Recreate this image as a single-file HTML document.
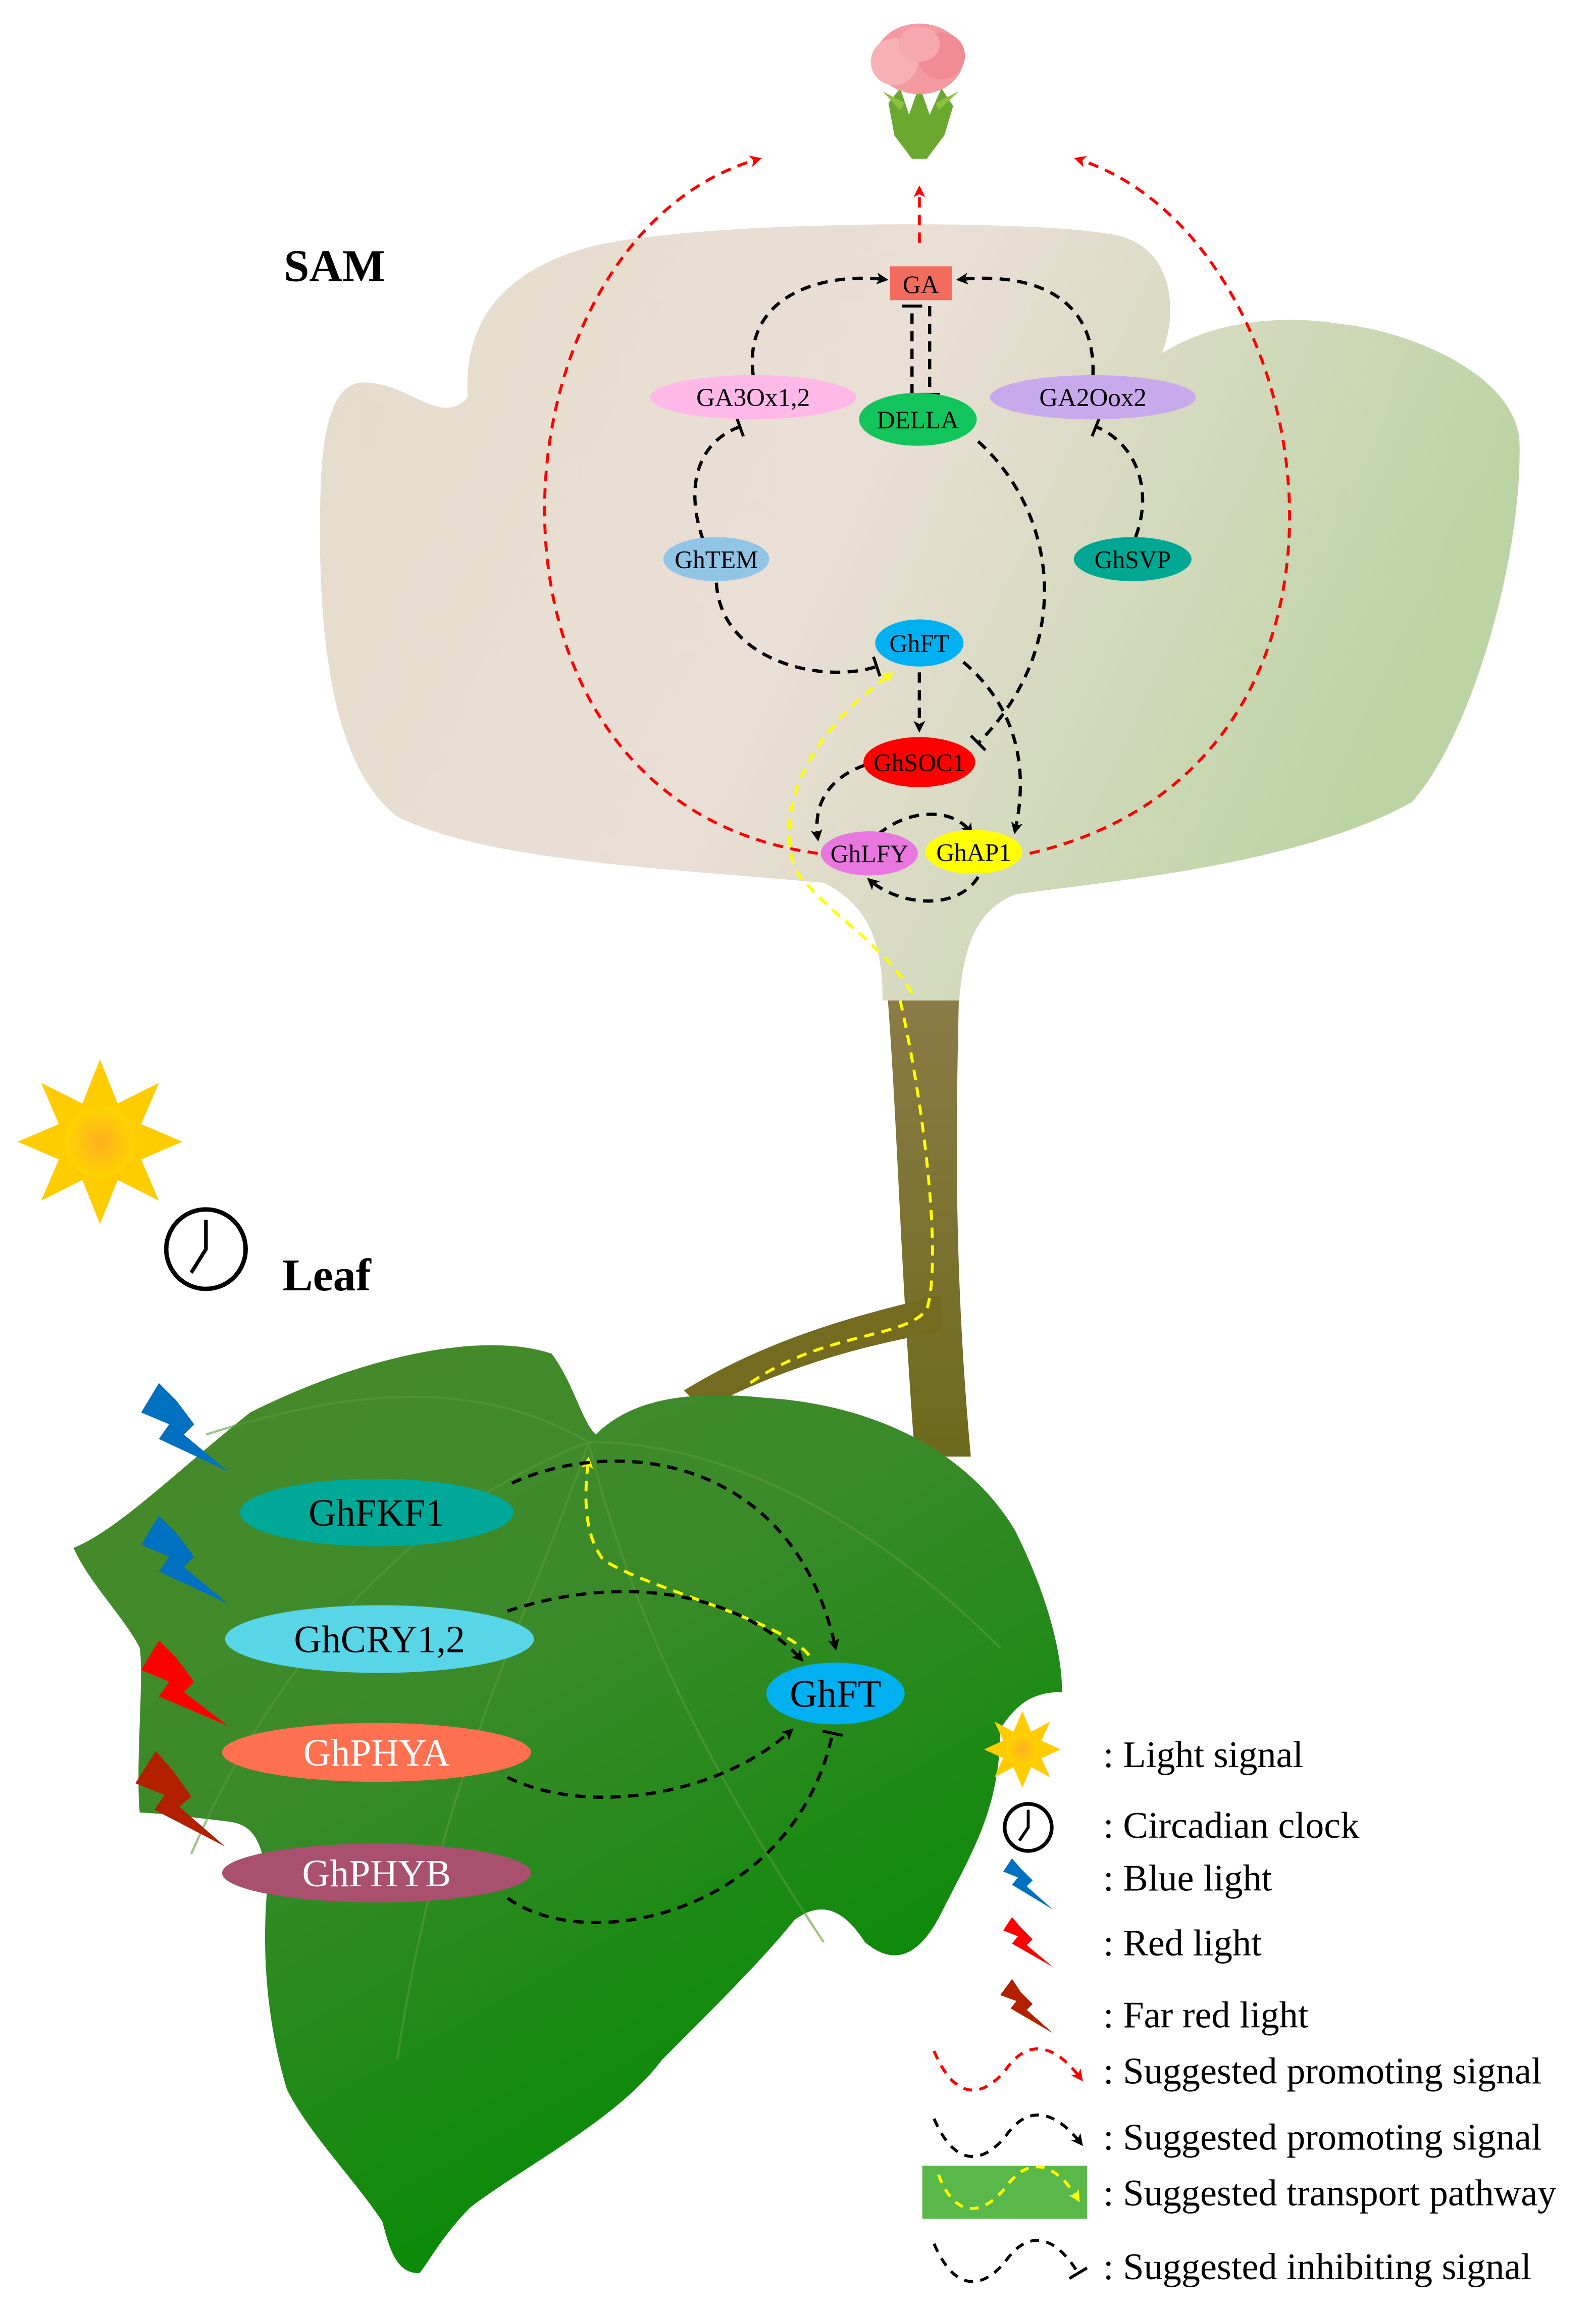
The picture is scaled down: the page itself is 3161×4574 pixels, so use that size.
<!DOCTYPE html>
<html><head><meta charset="utf-8"><style>html,body{margin:0;padding:0;background:#fff}svg{display:block}</style></head>
<body>
<svg width="3161" height="4574" viewBox="0 0 1085 1570" preserveAspectRatio="none" xmlns="http://www.w3.org/2000/svg" font-family="'Liberation Serif', serif">
<defs>
<linearGradient id="sam" x1="0" y1="0" x2="1" y2="0.3"><stop offset="0" stop-color="#e4dccb"/><stop offset="0.5" stop-color="#eadfd6"/><stop offset="1" stop-color="#bcd4a4"/></linearGradient>
<linearGradient id="stem" x1="0" y1="0" x2="0" y2="1"><stop offset="0" stop-color="#8c7c48"/><stop offset="1" stop-color="#6c6a1c"/></linearGradient>
<linearGradient id="leaf" x1="0" y1="0" x2="0.6" y2="1"><stop offset="0" stop-color="#4a8a2a"/><stop offset="0.45" stop-color="#3a8a2a"/><stop offset="1" stop-color="#008a00"/></linearGradient>
<radialGradient id="sun"><stop offset="0" stop-color="#ffb020"/><stop offset="1" stop-color="#ffd400"/></radialGradient>
<marker id="ab" markerWidth="8" markerHeight="8" refX="6" refY="4" orient="auto" markerUnits="userSpaceOnUse"><path d="M0,0 L8,4 L0,8 L2,4z" fill="#000"/></marker>
<marker id="ar" markerWidth="8" markerHeight="8" refX="6" refY="4" orient="auto" markerUnits="userSpaceOnUse"><path d="M0,0 L8,4 L0,8 L2,4z" fill="#f00"/></marker>
<marker id="ay" markerWidth="8" markerHeight="8" refX="6" refY="4" orient="auto" markerUnits="userSpaceOnUse"><path d="M0,0 L8,4 L0,8 L2,4z" fill="#ff0"/></marker>
<marker id="tb" markerWidth="4" markerHeight="14" refX="2" refY="7" orient="auto" markerUnits="userSpaceOnUse"><path d="M2,0 V14" stroke="#000" stroke-width="2"/></marker>
</defs>

<!-- stem -->
<path d="M603,672 C610,760 612,860 622,990 L660,990 C648,860 650,760 652,672 Z" fill="url(#stem)"/>
<path d="M640,880 C600,890 530,905 465,945 L478,958 C540,925 600,912 640,905 Z" fill="#746a20"/>
<!-- SAM blob -->
<path d="M600,680 C600,640 590,615 560,600 C450,590 330,585 270,555 C225,520 215,430 218,330 C220,280 230,258 250,260 C280,262 300,290 318,270 C315,220 340,185 400,168 C470,150 700,148 760,160 C800,170 800,215 790,240 C830,215 880,215 910,220 C960,225 1030,255 1033,300 C1035,380 1000,500 960,545 C880,590 740,600 690,608 C660,620 655,650 652,680 Z" fill="url(#sam)"/>
<!-- leaf -->
<path d="M50,1052 C80,1040 120,1000 170,960 C250,920 330,905 375,920 C390,940 395,965 405,975 C430,950 470,945 520,950 C600,955 660,990 690,1040 C710,1080 722,1120 722,1150 C700,1150 690,1160 680,1175 C680,1230 660,1260 640,1300 C620,1340 600,1330 588,1320 C575,1300 560,1290 540,1305 C520,1330 490,1360 450,1400 C420,1440 360,1470 320,1500 C300,1520 290,1540 285,1545 C270,1545 265,1530 260,1510 C240,1480 210,1450 195,1420 C180,1370 178,1320 182,1280 C178,1250 172,1240 155,1238 C130,1235 105,1232 95,1232 C92,1200 98,1140 95,1120 C85,1100 60,1075 50,1052 Z" fill="url(#leaf)"/>
<g stroke="#5a9a3a" stroke-width="1.5" fill="none" opacity="0.6">
<path d="M400,980 C360,1100 300,1200 270,1400"/><path d="M400,980 C430,1100 480,1200 560,1320"/><path d="M400,980 C300,1020 200,1100 130,1260"/><path d="M400,980 C500,980 600,1040 680,1120"/><path d="M140,975 C250,940 330,940 400,980"/></g>

<!-- flower -->
<path d="M604,70 L612,60 L618,78 L625,58 L632,78 L640,60 L648,72 L642,92 L630,108 L620,108 L608,92 Z" fill="#6aa830"/>
<path d="M612,75 L600,62 L615,70 Z M638,75 L652,62 L636,70 Z" fill="#8cc040"/>
<ellipse cx="625" cy="40" rx="30" ry="24" fill="#f49aa0"/><ellipse cx="608" cy="42" rx="16" ry="16" fill="#f7b0b4"/><ellipse cx="640" cy="38" rx="16" ry="16" fill="#f18c94"/><ellipse cx="625" cy="30" rx="14" ry="12" fill="#f6a8ae"/>

<!-- red arcs -->
<g stroke="#f00" stroke-width="2" stroke-dasharray="7,5" fill="none">
<path d="M556,580 C300,545 330,160 516,108" marker-end="url(#ar)"/>
<path d="M700,580 C960,520 900,160 732,108" marker-end="url(#ar)"/>
<path d="M625,165 L625,128" marker-end="url(#ar)"/>
</g>

<!-- SAM black -->
<g stroke="#000" stroke-width="2.2" stroke-dasharray="7,5" fill="none">
<path d="M512,255 C505,200 560,185 602,190" marker-end="url(#ab)"/>
<path d="M743,255 C745,200 700,185 652,190" marker-end="url(#ab)"/>
<path d="M620,268 L620,208" marker-end="url(#tb)"/>
<path d="M632,208 L632,268" marker-end="url(#tb)"/>
<path d="M478,367 C465,330 475,300 503,290" marker-end="url(#tb)"/>
<path d="M772,365 C785,330 770,300 745,290" marker-end="url(#tb)"/>
<path d="M487,396 C490,450 560,465 596,453" marker-end="url(#tb)"/>
<path d="M665,300 C720,350 730,440 665,505" marker-end="url(#tb)"/>
<path d="M625,457 L625,496" marker-end="url(#ab)"/>
<path d="M655,450 C690,480 700,520 690,565" marker-end="url(#ab)"/>
<path d="M588,520 C560,530 553,550 556,570" marker-end="url(#ab)"/>
<path d="M597,567 C620,548 650,550 660,566" marker-end="url(#ab)"/>
<path d="M665,596 C650,620 610,615 591,598" marker-end="url(#ab)"/>
</g>
<!-- yellow transport -->
<g stroke="#ff0" stroke-width="2" stroke-dasharray="7,5" fill="none">
<path d="M612,680 C630,760 640,860 630,890 C615,910 560,905 510,940" />
<path d="M620,675 C600,640 560,620 540,590 C525,540 560,490 606,458" marker-end="url(#ay)"/>
<path d="M550,1125 C530,1100 440,1080 410,1060 C395,1040 398,1010 400,992" marker-end="url(#ay)"/>
</g>
<!-- leaf black -->
<g stroke="#000" stroke-width="2.2" stroke-dasharray="7,5" fill="none">
<path d="M348,1008 C420,975 540,990 568,1120" marker-end="url(#ab)"/>
<path d="M345,1095 C420,1070 500,1080 545,1128" marker-end="url(#ab)"/>
<path d="M345,1208 C400,1235 490,1220 538,1176" marker-end="url(#ab)"/>
<path d="M345,1290 C400,1330 540,1300 566,1178" marker-end="url(#tb)"/>
</g>

<!-- SAM nodes -->
<rect x="605" y="181" width="42" height="23" fill="#f26c5e"/><text x="626" y="199" font-size="17" text-anchor="middle">GA</text>
<ellipse cx="512" cy="270" rx="70" ry="15" fill="#ffb8e8"/><text x="512" y="276" font-size="17.5" text-anchor="middle">GA3Ox1,2</text>
<ellipse cx="624" cy="285" rx="40" ry="18" fill="#12c45c"/><text x="624" y="291" font-size="17" text-anchor="middle">DELLA</text>
<ellipse cx="743" cy="270" rx="70" ry="15" fill="#c8aaec"/><text x="743" y="276" font-size="17.5" text-anchor="middle">GA2Oox2</text>
<ellipse cx="487" cy="380" rx="36" ry="15" fill="#92c4e6"/><text x="487" y="386" font-size="17" text-anchor="middle">GhTEM</text>
<ellipse cx="770" cy="380" rx="40" ry="15" fill="#00a894"/><text x="770" y="386" font-size="17" text-anchor="middle">GhSVP</text>
<ellipse cx="625" cy="437" rx="30" ry="16" fill="#00b0f0"/><text x="625" y="443" font-size="17" text-anchor="middle">GhFT</text>
<ellipse cx="625" cy="518" rx="38" ry="17" fill="#f00"/><text x="625" y="524" font-size="17" text-anchor="middle">GhSOC1</text>
<ellipse cx="591" cy="580" rx="33" ry="15" fill="#e878e0"/><text x="591" y="586" font-size="17" text-anchor="middle">GhLFY</text>
<ellipse cx="662" cy="579" rx="33" ry="15" fill="#ff0"/><text x="662" y="585" font-size="17" text-anchor="middle">GhAP1</text>

<!-- leaf nodes -->
<ellipse cx="256" cy="1028" rx="93" ry="23" fill="#00a898"/><text x="256" y="1037" font-size="26" text-anchor="middle">GhFKF1</text>
<ellipse cx="258" cy="1114" rx="105" ry="23" fill="#58d6e8"/><text x="258" y="1123" font-size="26" text-anchor="middle">GhCRY1,2</text>
<ellipse cx="256" cy="1191" rx="105" ry="20" fill="#ff7050"/><text x="256" y="1200" font-size="26" fill="#fff" text-anchor="middle">GhPHYA</text>
<ellipse cx="256" cy="1273" rx="105" ry="20" fill="#a8506e"/><text x="256" y="1282" font-size="26" fill="#fff" text-anchor="middle">GhPHYB</text>
<ellipse cx="568" cy="1151" rx="47" ry="21" fill="#00b0f0"/><text x="568" y="1160" font-size="26" text-anchor="middle">GhFT</text>

<!-- titles -->
<text x="193" y="191" font-size="31" font-weight="bold">SAM</text>
<text x="192" y="877" font-size="31" font-weight="bold">Leaf</text>

<!-- sun & clock -->
<g transform="translate(68,776)"><polygon points="0,-56 12,-26 40,-40 28,-12 56,0 28,12 40,40 12,26 0,56 -12,26 -40,40 -28,12 -56,0 -28,-12 -40,-40 -12,-26" fill="#ffcc00"/><circle r="24" fill="url(#sun)"/></g>
<g transform="translate(140,849)" stroke="#000" fill="none"><circle r="27" stroke-width="3"/><path d="M0,-20 V0 L-10,16" stroke-width="2.5"/></g>

<!-- bolts -->
<path d="M108,940 L96,960 L115,968 L108,978 L155,1000 L125,975 L132,968 L120,952 Z" fill="#0070c0"/>
<path d="M108,1030 L96,1050 L115,1058 L108,1068 L155,1090 L125,1065 L132,1058 L120,1042 Z" fill="#0070c0"/>
<path d="M108,1115 L96,1135 L115,1143 L108,1153 L155,1173 L125,1150 L132,1143 L120,1127 Z" fill="#f00"/>
<path d="M106,1190 L92,1212 L112,1220 L105,1230 L153,1255 L122,1228 L130,1221 L118,1204 Z" fill="#b22000"/>

<!-- legend -->
<g transform="translate(695,1189)"><polygon points="0,-26 6,-12 19,-19 13,-6 26,0 13,6 19,19 6,12 0,26 -6,12 -19,19 -13,6 -26,0 -13,-6 -19,-19 -6,-12" fill="#ffcc00"/><circle r="11" fill="url(#sun)"/></g>
<g transform="translate(699,1242)" stroke="#000" fill="none"><circle r="16" stroke-width="2.5"/><path d="M0,-12 V0 L-6,9" stroke-width="2"/></g>
<path d="M688,1263 L682,1272 L692,1276 L688,1281 L716,1298 L698,1282 L702,1278 L694,1270 Z" fill="#0070c0"/>
<path d="M688,1303 L682,1312 L692,1316 L688,1321 L716,1337 L698,1322 L702,1318 L694,1310 Z" fill="#f00"/>
<path d="M688,1345 L680,1356 L691,1360 L687,1365 L716,1382 L698,1366 L702,1362 L694,1354 Z" fill="#b22000"/>
<path d="M635,1394 C650,1430 670,1425 685,1405 C700,1385 718,1390 735,1413" stroke="#f00" stroke-width="2" stroke-dasharray="6,5" fill="none" marker-end="url(#ar)"/>
<path d="M635,1440 C650,1475 670,1470 685,1450 C700,1430 718,1435 735,1457" stroke="#000" stroke-width="2" stroke-dasharray="6,5" fill="none" marker-end="url(#ab)"/>
<rect x="627" y="1472" width="112" height="36" fill="#5ab84a"/>
<path d="M638,1478 C650,1510 670,1505 685,1485 C700,1465 718,1470 733,1495" stroke="#ff0" stroke-width="2" stroke-dasharray="6,5" fill="none" marker-end="url(#ay)"/>
<path d="M635,1525 C650,1560 670,1555 685,1535 C700,1515 718,1520 733,1545" stroke="#000" stroke-width="2" stroke-dasharray="6,5" fill="none" marker-end="url(#tb)"/>
<g font-size="25.5">
<text x="750" y="1201">: Light signal</text>
<text x="750" y="1249">: Circadian clock</text>
<text x="750" y="1285">: Blue light</text>
<text x="750" y="1329">: Red light</text>
<text x="750" y="1378">: Far red light</text>
<text x="750" y="1416">: Suggested promoting signal</text>
<text x="750" y="1461">: Suggested promoting signal</text>
<text x="750" y="1499">: Suggested transport pathway</text>
<text x="750" y="1549">: Suggested inhibiting signal</text>
</g>
</svg>
</body></html>
